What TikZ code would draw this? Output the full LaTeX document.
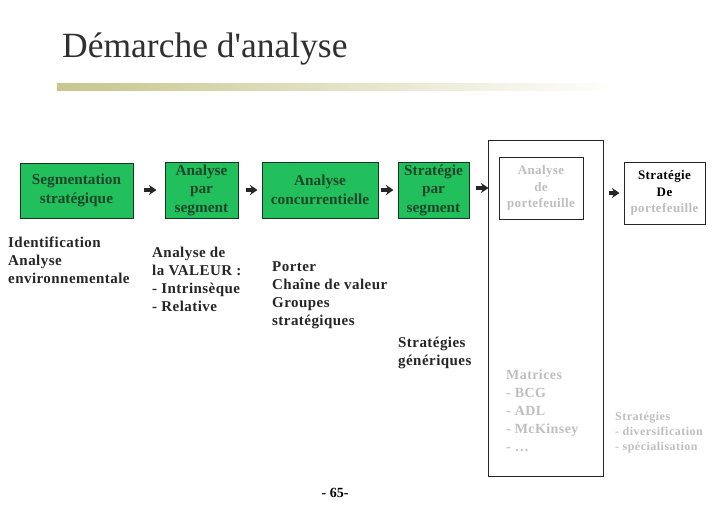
\documentclass[tikz,border=0pt]{standalone}
\usepackage{fontspec}
\setmainfont{Liberation Serif}
\newfontfamily\titlefont{Liberation Serif}[Ligatures=TeXOff]
\usetikzlibrary{arrows.meta}

\definecolor{boxgreen}{RGB}{34,192,92}
\definecolor{boxtext}{RGB}{26,70,42}
\definecolor{boxline}{RGB}{22,52,32}
\definecolor{paletext}{RGB}{190,190,190}
\definecolor{barolive}{RGB}{198,198,140}
\definecolor{titlegray}{RGB}{48,48,48}

\tikzset{
  stage/.style={draw=boxline,line width=1pt,fill=boxgreen,text=boxtext,
    font=\bfseries\fontsize{15.3}{18.5}\selectfont,align=center,inner sep=0pt},
  palebox/.style={draw=black!85,line width=1pt,fill=white,align=center,inner sep=0pt,
    font=\bfseries\fontsize{13}{16.5}\selectfont\addfontfeature{LetterSpace=3}},
  notes/.style={anchor=north west,inner sep=0pt,align=left,text=black!85,
    font=\bfseries\fontsize{15}{18}\selectfont\addfontfeature{LetterSpace=3}},
  palenotes/.style={notes,text=paletext,
    font=\bfseries\fontsize{14}{18}\selectfont\addfontfeature{LetterSpace=3}},
  flow/.style={draw=black!85,line width=3.5pt,-{Stealth[length=7.5pt,width=10pt,inset=2.5pt]}}
}

\begin{document}
\begin{tikzpicture}[x=1pt,y=-1pt]
  \useasboundingbox (0,0) rectangle (728,504);

  % title and bar
  \node[anchor=base west,inner sep=0pt,text=titlegray,font=\titlefont\fontsize{35.5}{40}\selectfont]
    (title) at (62,57) {Démarche d'analyse};
  \shade[left color=barolive,right color=white] (57,83) rectangle (620,90);

  % portfolio frame
  \node[draw=black!85,line width=1pt,minimum width=115pt,minimum height=336pt,inner sep=0pt]
    (frame) at (545.5,308) {};

  % stages
  \node[stage,minimum width=113pt,minimum height=55pt] (seg) at (76.5,190.5)
    {Segmentation\\stratégique};
  \node[stage,minimum width=73pt,minimum height=56pt] (aps) at (201.5,190)
    {Analyse\\par\\segment};
  \node[stage,minimum width=116pt,minimum height=56pt] (conc) at (320,190)
    {Analyse\\concurrentielle};
  \node[stage,minimum width=71pt,minimum height=56pt] (sps) at (433.5,190)
    {Stratégie\\par\\segment};
  \node[palebox,text=paletext,minimum width=84pt,minimum height=62pt] (port) at (541,188)
    {Analyse\\de\\portefeuille};
  \node[palebox,minimum width=81pt,minimum height=62pt] (sport) at (664.5,193)
    {Stratégie\\De\\\textcolor{paletext}{portefeuille}};

  \foreach \from/\to/\s/\e in {seg/aps/10/8,aps/conc/7/4,conc/sps/2/4,sps/port/6/10,frame/sport/5/4}
    \draw[flow,shorten <=\s pt,shorten >=\e pt] (\from.east |- \to.west) -- (\to.west);

  % notes under the stages
  \node[notes] (identnote) at (8,236.5) {Identification\\Analyse\\environnementale};
  \node[notes] (valnote) at (152,246.5) {Analyse de\\la VALEUR :\\- Intrinsèque\\- Relative};
  \node[notes] (porternote) at (272,261) {Porter\\Chaîne de valeur\\Groupes\\stratégiques};
  \node[notes] (genenote) at (398,336.5) {Stratégies\\génériques};
  \node[palenotes] (matnote) at (506,370) {Matrices\\- BCG\\- ADL\\- McKinsey\\- \dots};
  \node[palenotes,font=\bfseries\fontsize{12}{15}\selectfont\addfontfeature{LetterSpace=4}]
    (divnote) at (615,412) {Stratégies\\- diversification\\- spécialisation};

  % page number
  \node[anchor=base,inner sep=0pt,font=\bfseries\fontsize{14}{16}\selectfont] (pagenum) at (335,497) {- 65-};

\end{tikzpicture}
\end{document}
